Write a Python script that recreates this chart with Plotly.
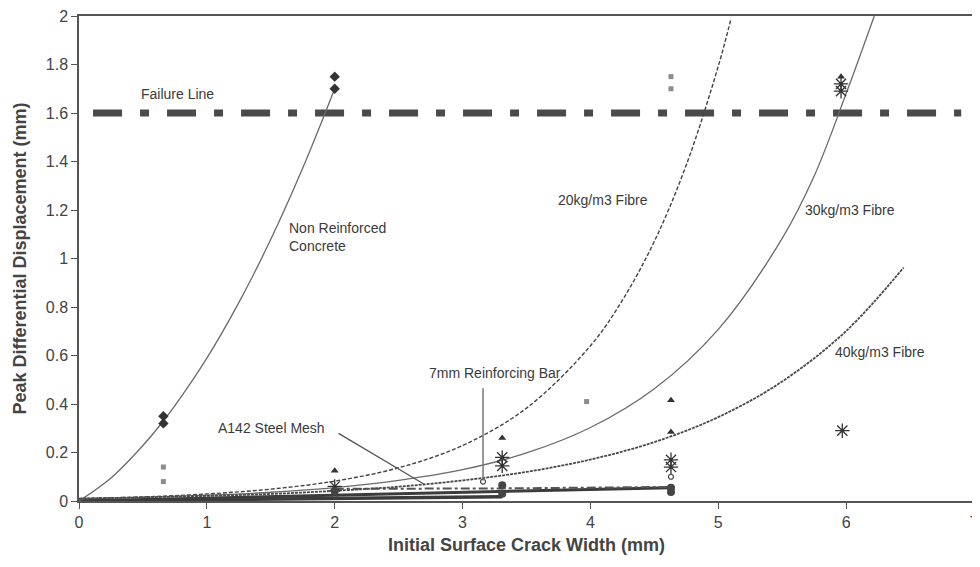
import plotly.graph_objects as go

# ---------------- data ----------------
# Measured points
nr_x = [0.66, 0.66, 2.0, 2.0]
nr_y = [0.35, 0.32, 1.75, 1.70]

f20_x = [0.66, 0.66, 3.97, 4.63, 4.63]
f20_y = [0.14, 0.08, 0.41, 1.75, 1.70]

f30_x = [2.0, 3.31, 4.63, 4.63, 5.96]
f30_y = [0.125, 0.26, 0.415, 0.285, 1.75]

f40_x = [2.0, 3.31, 3.31, 4.63, 4.63, 5.97, 5.96, 5.96]
f40_y = [0.06, 0.18, 0.145, 0.17, 0.14, 0.29, 1.72, 1.69]

mesh_pts_x = [2.0, 3.31, 3.31, 4.63, 4.63]
mesh_pts_y = [0.04, 0.065, 0.03, 0.055, 0.037]

bar_pts_x = [2.0, 3.16, 4.63]
bar_pts_y = [0.02, 0.08, 0.10]

# Trend curves
nr_curve_x = [0, 0.25, 0.5, 0.66, 0.75, 1.0, 1.25, 1.5, 1.75, 2.0]
nr_curve_y = [0.0, 0.095, 0.229, 0.330, 0.393, 0.589, 0.818, 1.079, 1.373, 1.70]

f20_curve_x = [0, 0.5, 1, 1.5, 2, 2.5, 3, 3.5, 4, 4.25, 4.5, 4.75, 5.0, 5.1]
f20_curve_y = [0.010, 0.017, 0.029, 0.049, 0.082, 0.137, 0.229, 0.383, 0.640,
               0.828, 1.071, 1.386, 1.793, 1.99]

f30_curve_x = [0, 0.5, 1, 1.5, 2, 2.5, 3, 3.5, 4, 4.5, 5, 5.5, 5.75, 6.0, 6.22]
f30_curve_y = [0.010, 0.015, 0.024, 0.036, 0.055, 0.085, 0.129, 0.198, 0.303,
               0.463, 0.708, 1.083, 1.34, 1.68, 2.0]

f40_curve_x = [0, 0.5, 1, 1.5, 2, 2.5, 3, 3.5, 4, 4.5, 5, 5.5, 6, 6.45]
f40_curve_y = [0.010, 0.015, 0.021, 0.029, 0.042, 0.059, 0.085, 0.120, 0.171,
               0.243, 0.346, 0.493, 0.701, 0.963]

mesh_curve_x = [0, 1, 2, 3, 3.31, 4, 4.63]
mesh_curve_y = [0.0, 0.012, 0.025, 0.035, 0.040, 0.048, 0.055]

bar_curve_x = [0, 1, 2, 3, 3.31]
bar_curve_y = [0.0, 0.005, 0.010, 0.015, 0.018]

dd_curve_x = [2.0, 3.31, 4.63]
dd_curve_y = [0.050, 0.052, 0.058]

failure_x = [0.11, 6.9]
failure_y = [1.6, 1.6]

x_ticks = [0, 1, 2, 3, 4, 5, 6, 7]
y_ticks = [0, 0.2, 0.4, 0.6, 0.8, 1, 1.2, 1.4, 1.6, 1.8, 2]

# ---------------- figure ----------------
FONT = "Liberation Sans, Arial, sans-serif"
DARK = "#3c3c3c"
GREY = "#6a6a6a"

fig = go.Figure()

# failure line
fig.add_trace(go.Scatter(x=failure_x, y=failure_y, mode="lines",
                         line=dict(color="#4a4a4a", width=7, dash="29px,18px,9px,18px"),
                         hoverinfo="skip"))

# bottom trend lines
fig.add_trace(go.Scatter(x=bar_curve_x, y=bar_curve_y, mode="lines",
                         line=dict(color=DARK, width=3.5)))
fig.add_trace(go.Scatter(x=mesh_curve_x, y=mesh_curve_y, mode="lines",
                         line=dict(color=DARK, width=3)))
fig.add_trace(go.Scatter(x=dd_curve_x, y=dd_curve_y, mode="lines",
                         line=dict(color="#555555", width=2, dash="dashdot")))

# fibre/NR curves
fig.add_trace(go.Scatter(x=nr_curve_x, y=nr_curve_y, mode="lines", line_shape="spline",
                         line=dict(color=GREY, width=1.3)))
fig.add_trace(go.Scatter(x=f20_curve_x, y=f20_curve_y, mode="lines", line_shape="spline",
                         line=dict(color="#444444", width=1.4, dash="4px,2px")))
fig.add_trace(go.Scatter(x=f30_curve_x, y=f30_curve_y, mode="lines", line_shape="spline",
                         line=dict(color=GREY, width=1.3)))
fig.add_trace(go.Scatter(x=f40_curve_x, y=f40_curve_y, mode="lines", line_shape="spline",
                         line=dict(color="#4a4a4a", width=1.8, dash="3px,1px")))

# markers
fig.add_trace(go.Scatter(x=nr_x, y=nr_y, mode="markers",
                         marker=dict(symbol="diamond", size=8, color="#333333")))
fig.add_trace(go.Scatter(x=f20_x, y=f20_y, mode="markers",
                         marker=dict(symbol="square", size=5, color="#8c8c8c")))
fig.add_trace(go.Scatter(x=f30_x, y=f30_y, mode="markers",
                         marker=dict(symbol="triangle-up", size=7, color="#333333")))
fig.add_trace(go.Scatter(x=f40_x, y=f40_y, mode="markers",
                         marker=dict(symbol="asterisk-open", size=12, color="#333333",
                                     line=dict(color="#333333", width=1.3))))
fig.add_trace(go.Scatter(x=mesh_pts_x, y=mesh_pts_y, mode="markers",
                         marker=dict(symbol="circle", size=8, color="#444444")))
fig.add_trace(go.Scatter(x=bar_pts_x, y=bar_pts_y, mode="markers",
                         marker=dict(symbol="circle-open", size=5, color="#444444",
                                     line=dict(color="#444444", width=1.2))))

# leader lines
fig.add_shape(type="line", xref="x", yref="y", x0=3.16, y0=0.465, x1=3.16, y1=0.085,
              line=dict(color="#777777", width=1.5))
fig.add_shape(type="line", xref="x", yref="y", x0=2.03, y0=0.279, x1=2.70, y1=0.069,
              line=dict(color="#555555", width=1.3))

labels = [
    ("Failure Line", 0.47, 1.68),
    ("Non Reinforced<br>Concrete", 1.63, 1.09),
    ("20kg/m3 Fibre", 3.73, 1.243),
    ("30kg/m3 Fibre", 5.66, 1.198),
    ("40kg/m3 Fibre", 5.9, 0.613),
    ("7mm Reinforcing Bar", 2.72, 0.527),
    ("A142 Steel Mesh", 1.07, 0.30),
]
for txt, lx, ly in labels:
    fig.add_annotation(x=lx, y=ly, xref="x", yref="y", text=txt, showarrow=False,
                       xanchor="left", yanchor="middle", align="left",
                       font=dict(family=FONT, size=14, color="#3a3a3a"))

axis_common = dict(showline=True, linecolor="#555555", linewidth=1.5, mirror=True,
                   ticks="outside", ticklen=6, tickcolor="#555555", tickwidth=1.2,
                   showgrid=False, zeroline=False, automargin=False,
                   ticklabeloverflow="allow",
                   tickfont=dict(family=FONT, size=16, color="#444444"))

# the page body adds an 8px margin, so the figure is sized to fit the window
fig.update_layout(
    width=972, height=559,
    margin=dict(l=71, r=6, t=8, b=66),
    paper_bgcolor="white", plot_bgcolor="white",
    showlegend=False,
    xaxis=dict(range=[0, 7], tickvals=x_ticks, **axis_common,
               title=dict(text="Initial Surface Crack Width (mm)", standoff=8,
                          font=dict(family=FONT, size=18, color="#444444", weight="bold"))),
    yaxis=dict(range=[0, 2], tickvals=y_ticks, **axis_common,
               title=dict(text="Peak Differential Displacement (mm)", standoff=14,
                          font=dict(family=FONT, size=18, color="#444444", weight="bold"))),
)

fig.write_html("out.html")
